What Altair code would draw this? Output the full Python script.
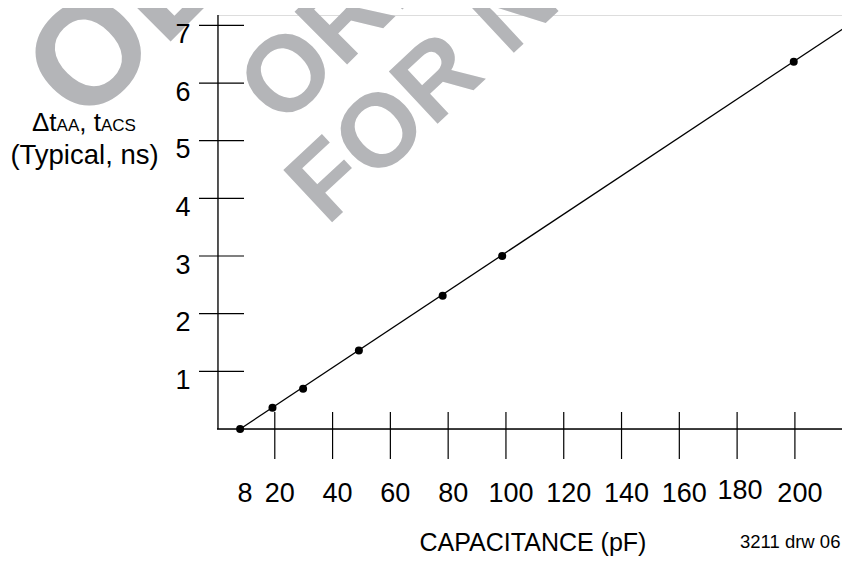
import altair as alt
import pandas as pd

# ---- data ----
cap_pf = [8, 19.2, 29.8, 49.1, 78.1, 98.7, 199.6]
delta_ns = [0.0, 0.37, 0.70, 1.36, 2.31, 3.00, 6.37]
fit_pf = [8, 219]
fit_ns = [0.0, 7.02]
x_tick_values = [20, 40, 60, 80, 100, 120, 140, 160, 180, 200]
x_label_values = [8, 20, 40, 60, 80, 100, 120, 140, 160, 180, 200]
x_label_texts = ["8", "20", "40", "60", "80", "100", "120", "140", "160", "180", "200"]
y_tick_values = [1, 2, 3, 4, 5, 6, 7]
y_label_texts = ["1", "2", "3", "4", "5", "6", "7"]

FONT = "Liberation Sans, Arial, sans-serif"
W, H = 625, 414
xs = alt.Scale(domain=[0, 216.3], nice=False, zero=False)
ys = alt.Scale(domain=[0, 7.18], nice=False, zero=False)

pts = pd.DataFrame({"x": cap_pf, "y": delta_ns})
fit = pd.DataFrame({"x": fit_pf, "y": fit_ns})
xt = pd.DataFrame({"x": x_tick_values})
xl = pd.DataFrame({"x": x_label_values, "t": x_label_texts})
yl = pd.DataFrame({"y": y_tick_values, "t": y_label_texts})
one = pd.DataFrame({"a": [0]})

WM = "#b4b5b8"

def wm(text, x, y, size, angle):
    return alt.Chart(one).mark_text(
        angle=angle, align="left", baseline="alphabetic", font=FONT,
        fontWeight="bold", fontSize=size, color=WM
    ).encode(x=alt.value(x), y=alt.value(y), text=alt.value(text))

watermark = (wm("OBSOLETE", -133, 113, 145, 315)
             + wm("ORDER", 65.6, 114, 108, 315)
             + wm("FOR NEW", 110, 212, 104, 317))

x_axis_line = alt.Chart(one).mark_rule(color="black", strokeWidth=1.3).encode(
    x=alt.value(0), x2=alt.value(W), y=alt.value(H))
y_axis_line = alt.Chart(one).mark_rule(color="black", strokeWidth=1.3).encode(
    x=alt.value(1), y=alt.value(0), y2=alt.value(H))

x_ticks = alt.Chart(xt).mark_rule(color="black", strokeWidth=1.2).encode(
    x=alt.X("x:Q", scale=xs, axis=None), y=alt.value(H - 17), y2=alt.value(H + 30))
y_ticks = alt.Chart(yl).mark_rule(color="black", strokeWidth=1.2).encode(
    y=alt.Y("y:Q", scale=ys, axis=None), x=alt.value(-18), x2=alt.value(27))

x_labels = alt.Chart(xl).transform_filter("datum.x != 180").mark_text(
    font=FONT, fontSize=27, align="center", baseline="alphabetic", dx=5, color="black"
).encode(x=alt.X("x:Q", scale=xs, axis=None), y=alt.value(487), text="t:N")
x_label_180 = alt.Chart(xl).transform_filter("datum.x == 180").mark_text(
    font=FONT, fontSize=27, align="center", baseline="alphabetic", dx=3, color="black"
).encode(x=alt.X("x:Q", scale=xs, axis=None), y=alt.value(484), text="t:N")

y_labels = alt.Chart(yl).mark_text(
    font=FONT, fontSize=27, align="right", baseline="alphabetic", dy=17.5, color="black"
).encode(y=alt.Y("y:Q", scale=ys, axis=None), x=alt.value(-26.5), text="t:N")

def txt(text, x, y, size, align="left"):
    return alt.Chart(one).mark_text(
        font=FONT, fontSize=size, align=align, baseline="alphabetic", color="black"
    ).encode(x=alt.value(x), y=alt.value(y), text=alt.value(text))

y_title = (txt("\u0394t", -185, 116, 26) + txt("AA", -160.4, 116, 17)
           + txt(", t", -137.7, 116, 26) + txt("ACS", -116, 116, 17)
           + txt("(Typical, ns)", -132.5, 148.5, 27.5, "center"))
x_title = txt("CAPACITANCE (pF)", 316, 535.5, 25, "center")
note = txt("3211 drw 06", 523, 533, 18.5)

line = alt.Chart(fit).mark_line(color="black", strokeWidth=1.3, clip=True).encode(
    x=alt.X("x:Q", scale=xs, axis=None), y=alt.Y("y:Q", scale=ys, axis=None))
dots = alt.Chart(pts).mark_circle(color="black", opacity=1, size=64).encode(
    x=alt.X("x:Q", scale=xs, axis=None), y=alt.Y("y:Q", scale=ys, axis=None))

chart = alt.layer(
    watermark, x_axis_line, y_axis_line, x_ticks, y_ticks,
    x_labels, x_label_180, y_labels, y_title, x_title, note, line, dots
).properties(
    width=W, height=H,
    autosize=alt.AutoSizeParams(type="none"),
    padding={"left": 209, "top": 7, "right": 0, "bottom": 127},
).configure_view(stroke=None).configure(background="white")

chart.save("out.html", embed_options={"renderer": "svg", "actions": False})
